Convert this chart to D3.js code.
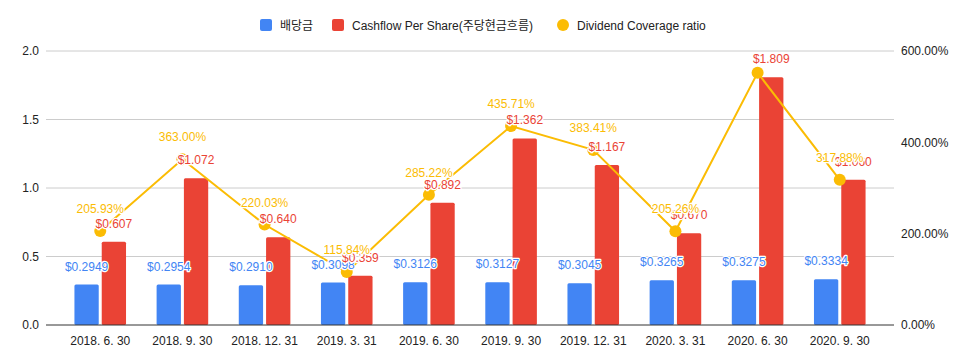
<!DOCTYPE html>
<html>
<head>
<meta charset="utf-8">
<script src="https://cdn.jsdelivr.net/npm/d3@7"></script>
<style>
    body { margin: 0; background: #fff; }
    svg text { font-family: Arial, "Liberation Sans", "Noto Sans CJK KR", sans-serif; }
</style>
</head>
<body>
<div id="chart"></div>
<script>
const categories = ["2018. 6. 30", "2018. 9. 30", "2018. 12. 31", "2019. 3. 31", "2019. 6. 30",
    "2019. 9. 30", "2019. 12. 31", "2020. 3. 31", "2020. 6. 30", "2020. 9. 30"];
const dividend = [0.2949, 0.2954, 0.2910, 0.3098, 0.3126, 0.3127, 0.3045, 0.3265, 0.3275, 0.3334];
const cashflow = [0.607, 1.072, 0.640, 0.359, 0.892, 1.362, 1.167, 0.670, 1.809, 1.060];
const coverage = [205.93, 363.00, 220.03, 115.84, 285.22, 435.71, 383.41, 205.26, 552.37, 317.88];
const leftTicks = [0, 0.5, 1.0, 1.5, 2.0];
const rightTicks = [0, 200, 400, 600];
const seriesNames = ["배당금", "Cashflow Per Share(주당현금흐름)", "Dividend Coverage ratio"];

const BLUE = "#4285f4", RED = "#ea4335", YELLOW = "#fbbc04";
const width = 969, height = 364;
const plot = {left: 46, right: 894, top: 51, bottom: 325};

const svg = d3.select("#chart").append("svg")
        .attr("width", width)
        .attr("height", height);

const x = d3.scaleBand()
        .domain(categories)
        .range([plot.left, plot.right])
        .paddingInner(0)
        .paddingOuter(0.16);
const xs = d3.scaleBand()
        .domain(["div", "cf"])
        .range([0, x.bandwidth()])
        .paddingInner(0.11)
        .paddingOuter(0.56);
const y = d3.scaleLinear().domain([0, 2]).range([plot.bottom, plot.top]);
const y2 = d3.scaleLinear().domain([0, 600]).range([plot.bottom, plot.top]);

// grid
svg.append("g").selectAll("line")
        .data(leftTicks.slice(1))
        .join("line")
        .attr("x1", plot.left).attr("x2", plot.right)
        .attr("y1", d => y(d)).attr("y2", d => y(d))
        .attr("stroke", "#ccc");

// left axis
svg.append("g").attr("transform", `translate(${plot.left},0)`)
        .call(d3.axisLeft(y).tickValues(leftTicks).tickFormat(d3.format(".1f")).tickSize(0).tickPadding(7))
        .call(g => g.select(".domain").remove())
        .selectAll("text").attr("font-size", 12).attr("fill", "#222").attr("font-family", null);

// right axis
svg.append("g").attr("transform", `translate(${plot.right},0)`)
        .call(d3.axisRight(y2).tickValues(rightTicks).tickFormat(d => d3.format(".2f")(d) + "%").tickSize(0).tickPadding(7))
        .call(g => g.select(".domain").remove())
        .selectAll("text").attr("font-size", 12).attr("fill", "#222").attr("font-family", null);

// bottom axis
svg.append("g").attr("transform", `translate(0,${plot.bottom})`)
        .call(d3.axisBottom(x).tickSize(0).tickPadding(11))
        .call(g => g.select(".domain").remove())
        .selectAll("text").attr("font-size", 12).attr("fill", "#222").attr("font-family", null);

// bars
const groups = svg.append("g").selectAll("g")
        .data(categories)
        .join("g")
        .attr("transform", d => `translate(${x(d)},0)`);
groups.append("rect")
        .attr("x", xs("div")).attr("width", xs.bandwidth())
        .attr("y", (d, i) => y(dividend[i]))
        .attr("height", (d, i) => y(0) - y(dividend[i]))
        .attr("rx", 1.5)
        .attr("fill", BLUE);
groups.append("rect")
        .attr("x", xs("cf")).attr("width", xs.bandwidth())
        .attr("y", (d, i) => y(cashflow[i]))
        .attr("height", (d, i) => y(0) - y(cashflow[i]))
        .attr("rx", 1.5)
        .attr("fill", RED);

// baseline
svg.append("line")
        .attr("x1", plot.left).attr("x2", plot.right)
        .attr("y1", plot.bottom).attr("y2", plot.bottom)
        .attr("stroke", "#333");

// coverage line
const cx = d => x(d) + x.bandwidth() / 2;
const line = d3.line()
        .x(d => cx(d))
        .y((d, i) => y2(coverage[i]));
svg.append("path")
        .datum(categories)
        .attr("d", line)
        .attr("fill", "none")
        .attr("stroke", YELLOW)
        .attr("stroke-width", 2);
svg.append("g").selectAll("circle")
        .data(categories)
        .join("circle")
        .attr("cx", d => cx(d))
        .attr("cy", (d, i) => y2(coverage[i]))
        .attr("r", 6)
        .attr("fill", YELLOW);

// data labels
function label(sel, color) {
    sel.attr("font-size", 12)
        .attr("text-anchor", "middle")
        .attr("fill", color)
        .attr("stroke", "#fff")
        .attr("stroke-width", 2.5)
        .attr("stroke-linejoin", "round")
        .attr("paint-order", "stroke");
}
const labels = svg.append("g");
labels.selectAll("text.div")
        .data(categories)
        .join("text")
        .attr("class", "div")
        .attr("x", d => x(d) + xs("div") + xs.bandwidth() / 2)
        .attr("y", (d, i) => y(dividend[i]) - 14)
        .text((d, i) => "$" + d3.format(".4f")(dividend[i]))
        .call(label, BLUE);
labels.selectAll("text.cf")
        .data(categories)
        .join("text")
        .attr("class", "cf")
        .attr("x", d => x(d) + xs("cf") + xs.bandwidth() / 2)
        .attr("y", (d, i) => y(cashflow[i]) - 14)
        .text((d, i) => "$" + d3.format(".3f")(cashflow[i]))
        .call(label, RED);
// ratio labels that would leave the plot area are dropped
labels.selectAll("text.cov")
        .data(categories.filter((d, i) => y2(coverage[i]) - 28 > plot.top))
        .join("text")
        .attr("class", "cov")
        .attr("x", d => cx(d))
        .attr("y", d => y2(coverage[categories.indexOf(d)]) - 18)
        .text(d => d3.format(".2f")(coverage[categories.indexOf(d)]) + "%")
        .call(label, YELLOW);

// legend
const legend = svg.append("g").attr("transform", "translate(0,25)");
const legendX = [260, 332, 557];
seriesNames.forEach(function(name, i) {
    const g = legend.append("g").attr("transform", `translate(${legendX[i]},0)`);
    if (i < 2) {
        g.append("rect").attr("x", 0).attr("y", -6).attr("width", 12).attr("height", 12)
                .attr("rx", 2).attr("fill", i === 0 ? BLUE : RED);
    } else {
        g.append("circle").attr("cx", 6).attr("cy", 0).attr("r", 6).attr("fill", YELLOW);
    }
    g.append("text").attr("x", 20).attr("y", 4.5)
            .attr("font-size", 12).attr("fill", "#222")
            .text(name);
});
</script>
</body>
</html>
